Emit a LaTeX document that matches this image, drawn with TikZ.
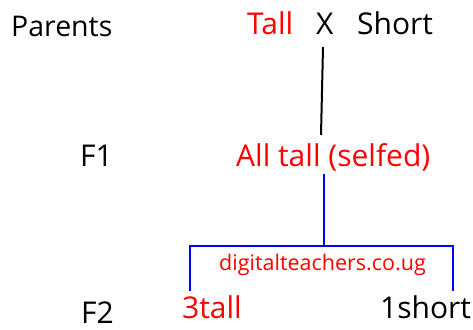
\documentclass[tikz,border=0pt]{standalone}
\usepackage{fontspec}
\setmainfont{Open Sans}
\definecolor{tred}{RGB}{255,0,0}
\definecolor{tblue}{RGB}{0,0,255}
\begin{document}
\begin{tikzpicture}[x=1pt,y=-1pt,
  lbl/.style={inner sep=0pt, anchor=base west, font=\fontsize{30}{32}\selectfont},
  redlbl/.style={lbl, text=tred},
  wm/.style={inner sep=0pt, anchor=base west, text=tred, font=\fontsize{21.5}{23}\selectfont},
  blackline/.style={draw=black, line width=2pt},
  blueline/.style={draw=tblue, line width=2pt}]
\useasboundingbox (0,0) rectangle (473,329);
\node[lbl, font=\fontsize{28.5}{30}\selectfont] (parents) at (11,37) {Parents};
\node[redlbl] (tall) at (247,35) {Tall};
\node[lbl] (cross) at (316,35) {X};
\node[lbl] (short) at (357,35) {Short};
\node[lbl] (f1) at (80,166) {F1};
\node[redlbl] (all) at (236,166) {All tall (selfed)};
\node[wm] (wm) at (219,270) {digitalteachers.co.ug};
\node[lbl] (f2) at (81,323) {F2};
\node[redlbl] (tall3) at (182,318) {3tall};
\node[lbl] (short1) at (380,318) {1short};
\coordinate (xtop) at (323,47);
\coordinate (xbot) at (321,135);
\draw[blackline] (xtop) -- (xbot);
\coordinate (j) at (324,246);
\coordinate (bl) at (190,291);
\coordinate (br) at (453,291);
\draw[blueline] (j |- all.south) ++(0,3) -- (j);
\draw[blueline] (bl) |- (j) -| (br);
\end{tikzpicture}
\end{document}
